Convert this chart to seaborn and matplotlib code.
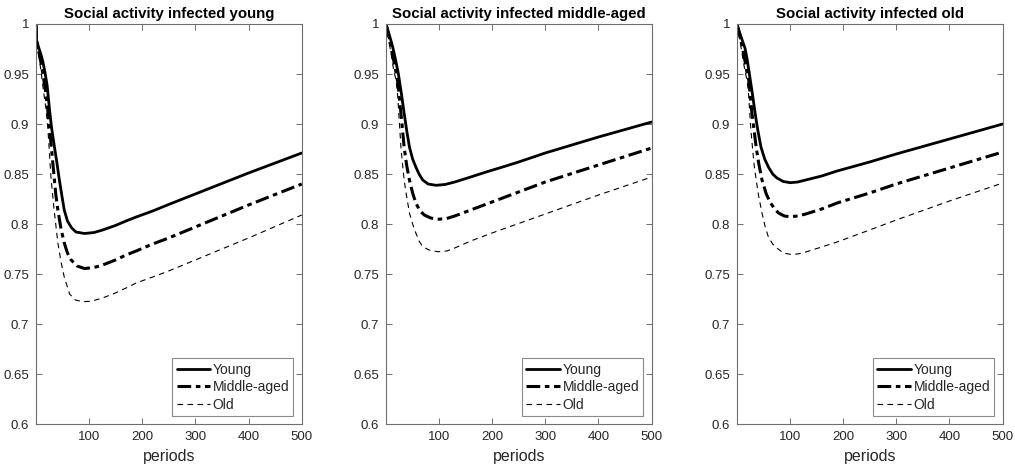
import matplotlib
matplotlib.use("Agg")
import matplotlib.pyplot as plt
import seaborn as sns
import pandas as pd

# --- data (period, social activity) ---
panel_titles = ["Social activity infected young",
                "Social activity infected middle-aged",
                "Social activity infected old"]
series_names = ["Young", "Middle-aged", "Old"]

# panel 1: infected young
p1_young_t = [1, 2, 5, 10, 14, 18, 22, 26, 30, 35, 40, 44, 49, 54, 60, 68, 76, 92, 110, 126, 150, 170, 189,
              220, 250, 300, 350, 400, 450, 500]
p1_young_v = [1.0, 0.984, 0.978, 0.970, 0.962, 0.951, 0.938, 0.916, 0.897, 0.879, 0.862, 0.847, 0.830, 0.814,
              0.803, 0.796, 0.792, 0.7905, 0.7915, 0.794, 0.7985, 0.803, 0.807, 0.813, 0.8195, 0.830, 0.8405,
              0.851, 0.861, 0.871]
p1_mid_t = [1, 2, 5, 9, 14, 19, 23, 26, 29, 32, 35, 38, 42, 48, 54, 60, 67, 78, 92, 110, 126, 150, 170, 189,
            220, 250, 300, 350, 400, 450, 500]
p1_mid_v = [1.0, 0.984, 0.975, 0.965, 0.950, 0.932, 0.914, 0.897, 0.881, 0.864, 0.847, 0.830, 0.814, 0.795,
            0.781, 0.771, 0.764, 0.758, 0.7555, 0.7565, 0.759, 0.764, 0.769, 0.773, 0.780, 0.786, 0.797, 0.808,
            0.819, 0.8295, 0.840]
p1_old_t = [1, 2, 5, 8, 11, 15, 20, 23, 25, 27, 29, 32, 35, 42, 48, 54, 64, 75, 89, 105, 126, 150, 170, 189,
            220, 250, 300, 350, 400, 450, 500]
p1_old_v = [1.0, 0.983, 0.973, 0.962, 0.950, 0.933, 0.914, 0.897, 0.881, 0.864, 0.847, 0.830, 0.814, 0.781,
            0.762, 0.747, 0.730, 0.724, 0.7223, 0.7228, 0.726, 0.731, 0.736, 0.741, 0.747, 0.753, 0.764, 0.775,
            0.786, 0.7975, 0.809]

# panel 2: infected middle-aged
p2_young_t = [1, 5, 10, 14, 19, 24, 30, 35, 40, 45, 51, 57, 63, 70, 80, 95, 112, 130, 160, 189, 220, 250,
              300, 350, 400, 450, 500]
p2_young_v = [1.0, 0.993, 0.984, 0.976, 0.964, 0.951, 0.930, 0.911, 0.893, 0.877, 0.865, 0.857, 0.850, 0.844,
              0.840, 0.8387, 0.8395, 0.842, 0.847, 0.852, 0.857, 0.862, 0.871, 0.879, 0.887, 0.8945, 0.902]
p2_mid_t = [1, 6, 11, 16, 20, 23, 26, 29, 32, 35, 40, 45, 51, 57, 65, 73, 85, 98, 115, 130, 160, 200, 250,
            300, 350, 400, 450, 500]
p2_mid_v = [1.0, 0.988, 0.975, 0.962, 0.951, 0.942, 0.927, 0.911, 0.894, 0.877, 0.858, 0.844, 0.831, 0.821,
            0.813, 0.809, 0.806, 0.8047, 0.8055, 0.808, 0.814, 0.822, 0.832, 0.842, 0.8505, 0.859, 0.8675, 0.876]
p2_old_t = [1, 5, 10, 15, 18, 20, 23, 25, 27, 29, 32, 35, 40, 45, 51, 57, 63, 70, 82, 98, 115, 130, 160, 200,
            250, 300, 350, 400, 450, 500]
p2_old_v = [1.0, 0.988, 0.972, 0.955, 0.948, 0.944, 0.928, 0.911, 0.894, 0.877, 0.860, 0.844, 0.827, 0.811,
            0.800, 0.791, 0.783, 0.7773, 0.774, 0.7723, 0.773, 0.776, 0.783, 0.791, 0.8005, 0.810, 0.8195, 0.829,
            0.838, 0.847]

# panel 3: infected old
p3_young_t = [1, 5, 10, 16, 20, 24, 30, 35, 40, 46, 53, 60, 68, 76, 88, 101, 115, 130, 160, 189, 250, 300,
              350, 400, 450, 500]
p3_young_v = [1.0, 0.993, 0.985, 0.976, 0.965, 0.951, 0.930, 0.911, 0.894, 0.877, 0.865, 0.857, 0.850, 0.846,
              0.8425, 0.8413, 0.842, 0.844, 0.848, 0.853, 0.862, 0.870, 0.8775, 0.885, 0.8925, 0.900]
p3_mid_t = [1, 6, 11, 16, 20, 23, 26, 29, 33, 37, 42, 48, 56, 64, 72, 79, 90, 101, 115, 130, 160, 189, 250,
            300, 350, 400, 450, 500]
p3_mid_v = [1.0, 0.989, 0.977, 0.963, 0.951, 0.944, 0.928, 0.911, 0.894, 0.877, 0.860, 0.844, 0.830, 0.821,
            0.815, 0.811, 0.808, 0.8073, 0.808, 0.810, 0.815, 0.821, 0.831, 0.840, 0.848, 0.856, 0.864, 0.872]
p3_old_t = [1, 5, 10, 15, 18, 20, 23, 25, 27, 30, 33, 37, 42, 48, 54, 60, 68, 76, 88, 101, 115, 130, 160, 189,
            250, 300, 350, 400, 450, 500]
p3_old_v = [1.0, 0.988, 0.972, 0.956, 0.948, 0.944, 0.928, 0.911, 0.894, 0.877, 0.860, 0.844, 0.827, 0.811,
            0.797, 0.787, 0.780, 0.776, 0.771, 0.7697, 0.770, 0.772, 0.777, 0.782, 0.794, 0.804, 0.8135, 0.823,
            0.832, 0.841]

panels = [
    [(p1_young_t, p1_young_v), (p1_mid_t, p1_mid_v), (p1_old_t, p1_old_v)],
    [(p2_young_t, p2_young_v), (p2_mid_t, p2_mid_v), (p2_old_t, p2_old_v)],
    [(p3_young_t, p3_young_v), (p3_mid_t, p3_mid_v), (p3_old_t, p3_old_v)],
]

y_ticks = [0.6, 0.65, 0.7, 0.75, 0.8, 0.85, 0.9, 0.95, 1.0]
y_tick_labels = ["0.6", "0.65", "0.7", "0.75", "0.8", "0.85", "0.9", "0.95", "1"]
x_ticks = [100, 200, 300, 400, 500]

# line styles (matlab-ish)
styles = {
    "Young": dict(linestyle="-", linewidth=2.0),
    "Middle-aged": dict(linestyle=(0, (4.5, 1.5, 1.5, 1.5)), linewidth=2.2),
    "Old": dict(linestyle=(0, (5, 4)), linewidth=0.8),
}

sns.set_theme(style="white")
plt.rcParams["font.family"] = ["Liberation Sans", "DejaVu Sans"]

fig = plt.figure(figsize=(10.15, 4.66), dpi=100)
lefts = [0.0355, 0.3803, 0.7261]
axis_col = "#6e6e6e"
text_col = "#262626"

for i, left in enumerate(lefts):
    ax = fig.add_axes([left, 0.0901, 0.2618, 0.8584])
    for name, (t, v) in zip(series_names, panels[i]):
        df = pd.DataFrame({"periods": t, "value": v})
        sns.lineplot(data=df, x="periods", y="value", ax=ax, color="black",
                     label=name, estimator=None, sort=False, **styles[name])
    ax.set_xlim(1, 500)
    ax.set_ylim(0.6, 1.0)
    ax.set_xticks(x_ticks)
    ax.set_yticks(y_ticks)
    ax.set_yticklabels(y_tick_labels)
    ax.tick_params(direction="in", length=4, width=0.7, colors=axis_col,
                   labelcolor=text_col, labelsize=9.5, top=True, right=True,
                   bottom=True, left=True, pad=5)
    for sp in ax.spines.values():
        sp.set_color(axis_col)
        sp.set_linewidth(0.8)
    ax.set_xlabel("periods", fontsize=11.5, color=text_col, labelpad=4)
    ax.set_ylabel("")
    ax.set_title(panel_titles[i], fontsize=10.8, weight="bold", pad=4, color="black")
    leg = ax.legend(loc="lower right", fontsize=10, frameon=True, fancybox=False,
                    handlelength=2.4, handletextpad=0.2, borderpad=0.3,
                    labelspacing=0.25, borderaxespad=0.6)
    leg.get_frame().set_edgecolor(axis_col)
    leg.get_frame().set_linewidth(0.8)
    for txt in leg.get_texts():
        txt.set_color(text_col)

plt.savefig("out.png", dpi=100)
